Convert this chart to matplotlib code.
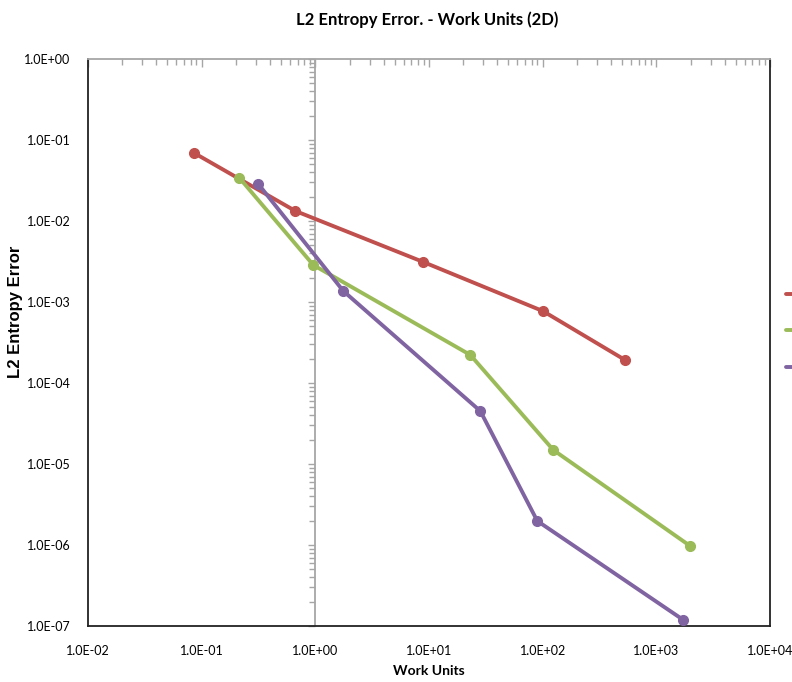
"""L2 entropy error against work units (2D), Excel-style log-log chart."""

import matplotlib

matplotlib.use("Agg")
import matplotlib.pyplot as plt
from matplotlib.ticker import FixedLocator, LogLocator, NullFormatter

# data
red_work = [0.086, 0.667, 8.9, 101, 532]
red_error = [6.9e-2, 1.33e-2, 3.12e-3, 7.7e-4, 1.92e-4]

green_work = [0.215, 0.96, 23.1, 124, 1990]
green_error = [3.4e-2, 2.86e-3, 2.22e-4, 1.49e-5, 9.7e-7]

purple_work = [0.315, 1.76, 28.3, 89.7, 1725]
purple_error = [2.86e-2, 1.37e-3, 4.5e-5, 1.98e-6, 1.19e-7]

x_ticks = [1e-2, 1e-1, 1e0, 1e1, 1e2, 1e3, 1e4]
y_ticks = [1e-7, 1e-6, 1e-5, 1e-4, 1e-3, 1e-2, 1e-1, 1e0]

RED = "#C0504D"
GREEN = "#9BBB59"
PURPLE = "#8064A2"
GRID_GREY = "#A6A6A6"

body_font = ["Lato", "DejaVu Sans"]
plt.rcParams["font.family"] = body_font


def sci_label(v: float) -> str:
    mant, exp = f"{v:.1E}".split("E")
    sign = exp[0]
    return f"{mant}E{sign}{abs(int(exp)):02d}"


fig = plt.figure(figsize=(7.92, 6.82), dpi=100)
ax = fig.add_axes([88 / 792, 56 / 682, 682 / 792, 567 / 682])

handles = []
for xs, ys, color in [
    (red_work, red_error, RED),
    (green_work, green_error, GREEN),
    (purple_work, purple_error, PURPLE),
]:
    (line,) = ax.plot(xs, ys, color=color, lw=2.8, marker="o", ms=7,
                      solid_capstyle="round", clip_on=False, zorder=3)
    handles.append(line)

ax.set_xscale("log")
ax.set_yscale("log")
ax.set_xlim(1e-2, 1e4)
ax.set_ylim(1e-7, 1e0)

# labels on left/bottom, x-axis line (y = 1) drawn along the top
ax.xaxis.set_major_locator(FixedLocator(x_ticks))
ax.yaxis.set_major_locator(FixedLocator(y_ticks))
ax.set_xticklabels([sci_label(v) for v in x_ticks])
ax.set_yticklabels([sci_label(v) for v in y_ticks])
ax.xaxis.set_minor_locator(LogLocator(base=10, subs=range(2, 10), numticks=50))
ax.xaxis.set_minor_formatter(NullFormatter())
ax.yaxis.set_minor_locator(LogLocator(base=10, subs=range(2, 10), numticks=50))
ax.yaxis.set_minor_formatter(NullFormatter())

ax.tick_params(axis="x", which="both", top=True, bottom=False, labelbottom=True,
               labeltop=False, direction="in", color=GRID_GREY, pad=14,
               labelsize=9)
ax.tick_params(axis="x", which="major", length=6, width=1)
ax.tick_params(axis="x", which="minor", length=4, width=1)
ax.tick_params(axis="y", which="both", left=False, right=False, labelsize=9,
               pad=9)

for side in ("left", "bottom", "right"):
    ax.spines[side].set_color("#222222")
    ax.spines[side].set_linewidth(1.3)
ax.spines["top"].set_color(GRID_GREY)
ax.spines["top"].set_linewidth(1.3)

# the y-axis line crosses at x = 1
ax.axvline(1.0, color=GRID_GREY, lw=1.3, zorder=1)
yline = ax.secondary_yaxis(1 / 3)
yline.spines["left"].set_visible(False)
yline.spines["right"].set_visible(False)
yline.yaxis.set_ticks_position("left")
yline.yaxis.set_major_locator(FixedLocator(y_ticks))
yline.yaxis.set_minor_locator(LogLocator(base=10, subs=range(2, 10), numticks=50))
yline.tick_params(axis="y", which="both", direction="out", color=GRID_GREY,
                  labelleft=False, labelright=False, width=1)
yline.tick_params(axis="y", which="major", length=5)
yline.tick_params(axis="y", which="minor", length=4)

fig.text(427 / 792, 1 - 20 / 682, "L2 Entropy Error. - Work Units (2D)",
         ha="center", va="center", fontsize=12, fontweight="bold")
fig.text(429 / 792, 1 - 671 / 682, "Work Units", ha="center", va="center",
         fontsize=10, fontweight="bold")
fig.text(16 / 792, 1 - 312 / 682, "L2 Entropy Error", ha="center",
         va="center", rotation=90, fontsize=12, fontweight="bold",
         family=["Liberation Sans", "DejaVu Sans"])

# legend is cut off by the right edge, only the handle tails show
fig.legend(handles, ["", "", ""], loc="upper left",
           bbox_to_anchor=(786 / 792, 1 - 289 / 682), frameon=False,
           handlelength=2.0, labelspacing=1.75, fontsize=10, borderaxespad=0,
           borderpad=0)

fig.savefig("out.png", dpi=100)
